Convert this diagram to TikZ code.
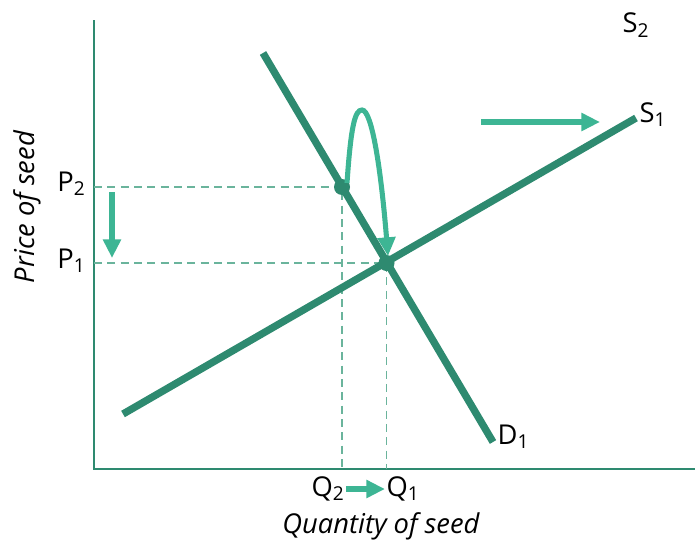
\documentclass[tikz,border=0pt]{standalone}
\usepackage{fontspec}
\setmainfont{Open Sans}
\usetikzlibrary{arrows.meta, positioning}
\definecolor{linecol}{HTML}{2E8A70}
\definecolor{movecol}{HTML}{3DB594}
\definecolor{guidecol}{HTML}{6AB49C}
\newcommand{\sbs}[1]{\textsubscript{#1}}

\begin{document}
\begin{tikzpicture}[x=0.75pt, y=-0.75pt,
    lab/.style={font=\fontsize{20.5}{24}\selectfont, inner sep=1pt},
    guideline/.style={guidecol, line width=1.1pt, dash pattern=on 6pt off 4pt},
    move/.style={movecol, line width=3.8pt, -{Triangle[length=14pt, width=13pt]}}]
  \useasboundingbox (0,0) rectangle (695,546);
  % axes
  \draw[linecol, line width=2.2pt] (94,20) -- (94,469) -- (695,469);
  % supply and demand
  \coordinate (s0) at (123,414);  \coordinate (s1) at (636,118);
  \coordinate (d0) at (263,53);   \coordinate (d1) at (493,442);
  \coordinate (eq) at (386.5,263); \coordinate (pt) at (342,187);
  \draw[guideline] (94,187) -- (pt) -- (342,469);
  \draw[guideline] (94,263) -- (eq) -- (386.5,469);
  \draw[linecol, line width=5.5pt] (s0) -- (s1);
  \draw[linecol, line width=5.5pt] (d0) -- (d1);
  \fill[linecol] (pt) circle (6pt) (eq) circle (6pt);
  % labels
  \node[lab, anchor=west] (S1) at (638,115) {S\sbs{1}};
  \node[lab] (S2) at (636,25) {S\sbs{2}};
  \node[lab, anchor=west] (D1) at (496,437) {D\sbs{1}};
  \node[lab, anchor=east] (P2) at (87,184) {P\sbs{2}};
  \node[lab, anchor=east] (P1) at (87,261) {P\sbs{1}};
  \node[lab] (Q2) at (328,489) {Q\sbs{2}};
  \node[lab] (Q1) at (403,489) {Q\sbs{1}};
  \node[lab, font=\fontsize{20.5}{24}\selectfont\itshape] (qty) at (381,526) {Quantity of seed};
  \node[lab, font=\fontsize{20.5}{24}\selectfont\itshape, rotate=90] (prc) at (27,207) {Price of seed};
  % shifts
  \draw[move] (481,122) -- (600,122);
  \draw[move] (112,192) -- (112,258);
  \draw[move] (Q2.east) -- (Q1.west);
  \draw[move] (347,183) .. controls (351,125) and (355,110) .. (362,110)
    .. controls (372,110) and (381,170) .. (388,256);
\end{tikzpicture}
\end{document}
